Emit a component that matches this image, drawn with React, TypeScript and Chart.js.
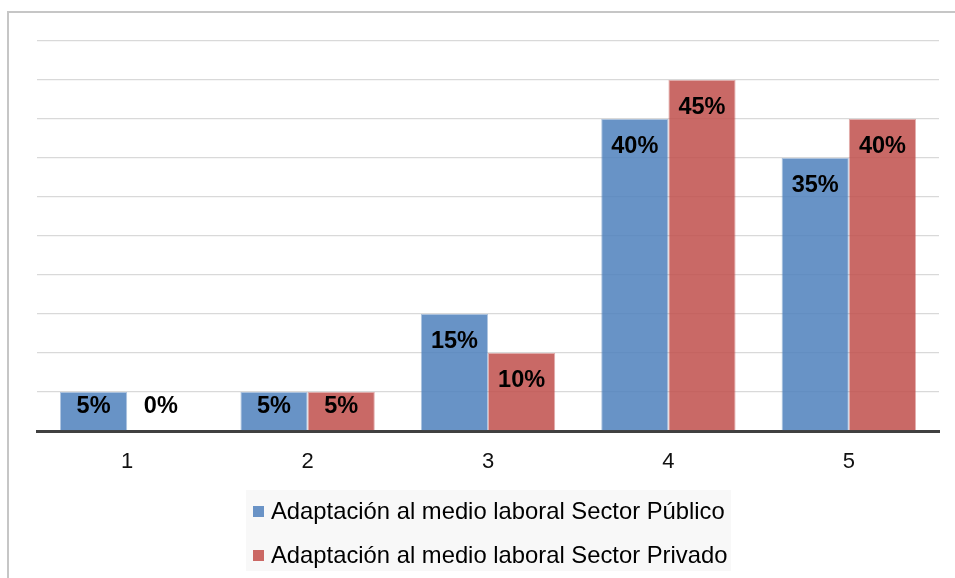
import React, { useEffect, useRef } from "react";
import { Chart, registerables } from "chart.js";

Chart.register(...registerables);

// Categories on the x axis
const categories = ["1", "2", "3", "4", "5"];

// Share of responses (%) for each sector
const seriesPublicoLabel = "Adaptación al medio laboral Sector Público";
const seriesPublico = [5, 5, 15, 40, 35];

const seriesPrivadoLabel = "Adaptación al medio laboral Sector Privado";
const seriesPrivado = [0, 5, 10, 45, 40];

// Value axis range (%)
const yMin = 0;
const yMax = 50;
const yStep = 5;

const FONT = 'Arial, "Liberation Sans", sans-serif';
const BLUE = "rgba(79, 129, 189, 0.86)";
const BLUE_EDGE = "rgba(79, 129, 189, 0.45)";
const RED = "rgba(192, 80, 77, 0.86)";
const RED_EDGE = "rgba(192, 80, 77, 0.45)";
const LEGEND_SWATCH = ["#6a93c6", "#cb6864"];

// White page, light frame around the chart
const framePlugin = {
  id: "frame",
  beforeDraw(chart: Chart) {
    const ctx = chart.ctx;
    ctx.save();
    ctx.fillStyle = "#ffffff";
    ctx.fillRect(0, 0, chart.width, chart.height);
    ctx.strokeStyle = "#c6c6c6";
    ctx.lineWidth = 2;
    ctx.beginPath();
    ctx.moveTo(8, chart.height);
    ctx.lineTo(8, 12);
    ctx.lineTo(chart.width, 12);
    ctx.stroke();
    ctx.restore();
  },
};

// Percentage labels placed inside the top of each bar
const valueLabelPlugin = {
  id: "valueLabels",
  afterDatasetsDraw(chart: Chart) {
    const ctx = chart.ctx;
    ctx.save();
    ctx.font = `bold 23.5px ${FONT}`;
    ctx.fillStyle = "#000000";
    ctx.textAlign = "center";
    ctx.textBaseline = "middle";
    chart.data.datasets.forEach((ds, di) => {
      const meta = chart.getDatasetMeta(di);
      meta.data.forEach((el: any, i: number) => {
        const v = ds.data[i] as number;
        const y = Math.min(el.y + 28, el.base - 24);
        ctx.fillText(`${v}%`, el.x, y);
      });
    });
    ctx.restore();
  },
};

// Two-row legend on a light grey panel below the axis
const legendPlugin = {
  id: "boxLegend",
  afterDraw(chart: Chart) {
    const ctx = chart.ctx;
    ctx.save();
    ctx.fillStyle = "#f8f8f8";
    ctx.fillRect(246, 490, 485, 81);
    ctx.font = `23.8px ${FONT}`;
    ctx.textBaseline = "middle";
    ctx.textAlign = "left";
    chart.data.datasets.forEach((ds, i) => {
      const cy = 512 + i * 44;
      ctx.fillStyle = LEGEND_SWATCH[i];
      ctx.fillRect(253, cy - 6, 11, 11);
      ctx.fillStyle = "#000000";
      ctx.fillText(ds.label as string, 271, cy);
    });
    ctx.restore();
  },
};

export default function App() {
  const canvasRef = useRef<HTMLCanvasElement | null>(null);

  useEffect(() => {
    if (!canvasRef.current) return;
    const chart = new Chart(canvasRef.current, {
      type: "bar",
      data: {
        labels: categories,
        datasets: [
          {
            label: seriesPublicoLabel,
            data: seriesPublico,
            backgroundColor: BLUE,
            borderColor: BLUE_EDGE,
            borderWidth: 1,
          },
          {
            label: seriesPrivadoLabel,
            data: seriesPrivado,
            backgroundColor: RED,
            borderColor: RED_EDGE,
            borderWidth: 1,
          },
        ],
      },
      options: {
        animation: false,
        responsive: false,
        maintainAspectRatio: false,
        datasets: {
          bar: { categoryPercentage: 0.745, barPercentage: 1 },
        },
        layout: { padding: { left: 0, right: 16, top: 41, bottom: 0 } },
        plugins: {
          legend: { display: false },
          tooltip: { enabled: false },
        },
        scales: {
          x: {
            grid: { display: false, drawTicks: false, tickLength: 0 },
            border: { display: true, color: "#404040", width: 3 },
            ticks: {
              color: "#111111",
              font: { family: FONT, size: 22 },
              padding: 18,
            },
            afterFit: (scale: any) => {
              scale.height = 147;
            },
          },
          y: {
            min: yMin,
            max: yMax,
            ticks: { display: false, stepSize: yStep },
            grid: { color: "#d9d9d9", lineWidth: 1.3, drawTicks: false, tickLength: 0 },
            border: { display: false },
            afterFit: (scale: any) => {
              scale.width = 37;
            },
          },
        },
      },
      plugins: [framePlugin, valueLabelPlugin, legendPlugin],
    });
    return () => chart.destroy();
  }, []);

  return (
    <div style={{ position: "fixed", left: 0, top: 0, width: 955, height: 578, background: "#fff" }}>
      <canvas ref={canvasRef} width={955} height={578} style={{ width: 955, height: 578, display: "block" }} />
    </div>
  );
}
